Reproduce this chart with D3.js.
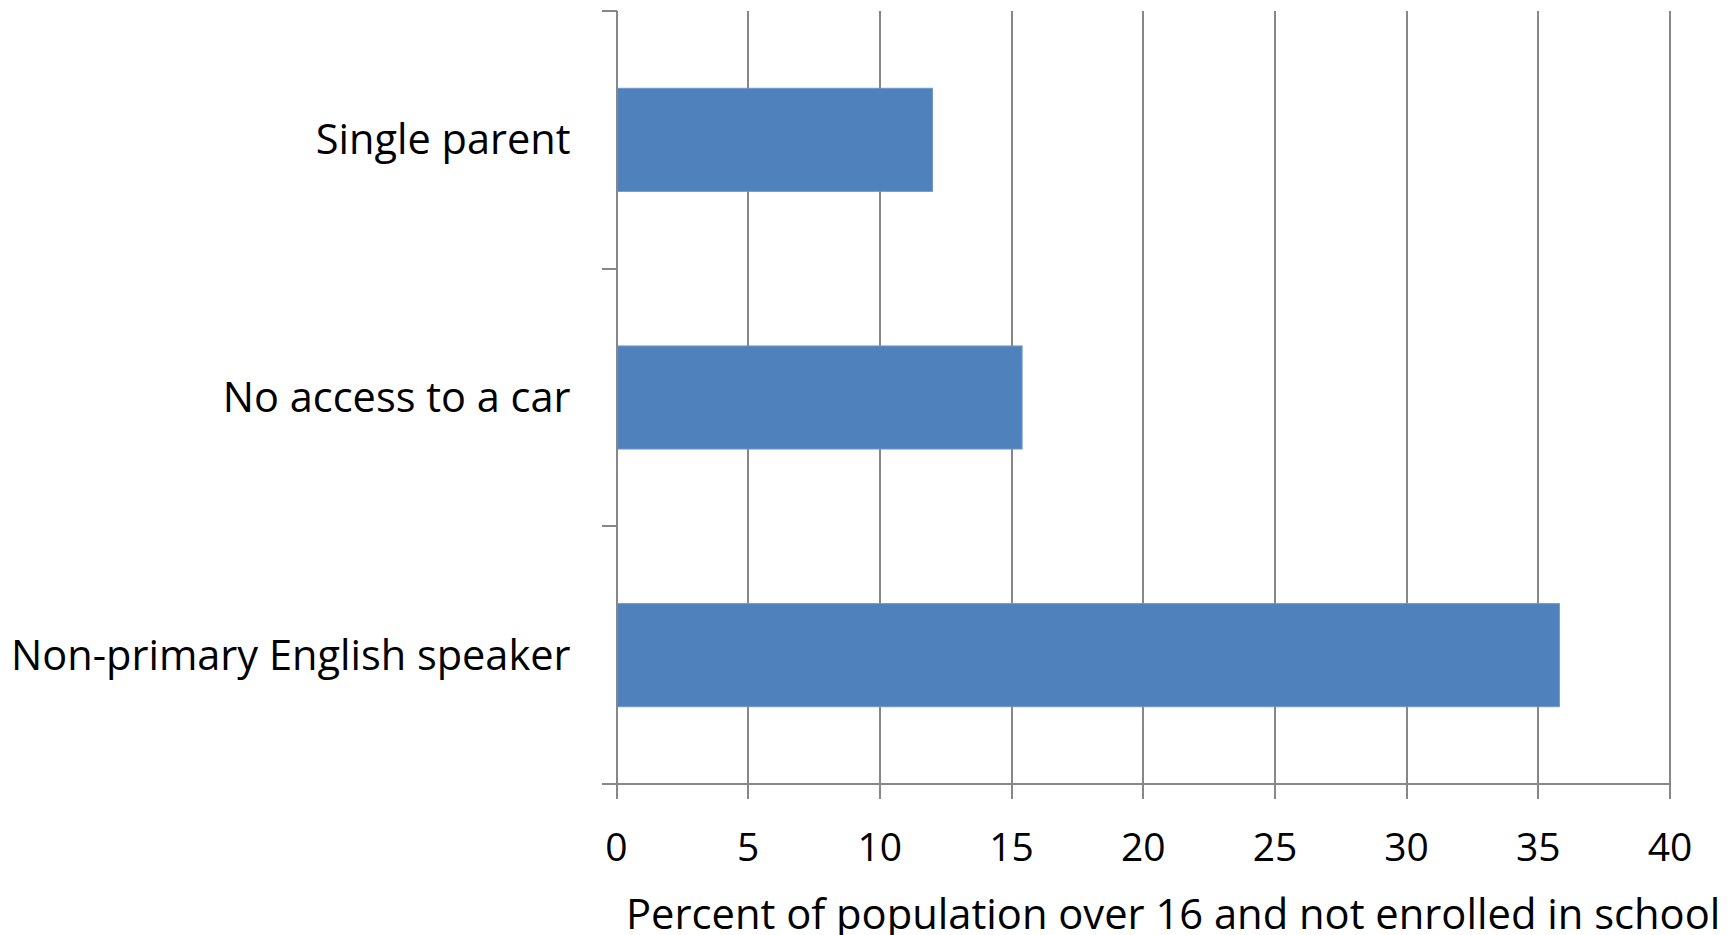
<!DOCTYPE html>
<html>
<head>
<meta charset="utf-8">
<script src="https://cdn.jsdelivr.net/npm/d3@7"></script>
<style>
  html, body { margin: 0; padding: 0; background: #fff; }
  svg { display: block; }
  text { font-family: "Open Sans", "Liberation Sans", sans-serif; fill: #000; }
</style>
</head>
<body>
<svg id="chart" width="1736" height="935"></svg>
<script>
// Share of population over 16 and not enrolled in school, by group
const categories = ["Single parent", "No access to a car", "Non-primary English speaker"];
const values = [12, 15.4, 35.8];
const xTicks = [0, 5, 10, 15, 20, 25, 30, 35, 40];
const xTitle = "Percent of population over 16 and not enrolled in school";

const svg = d3.select("#chart");
const plotLeft = 616.5, plotRight = 1670, plotTop = 11, plotBottom = 784;

const x = d3.scaleLinear().domain([0, 40]).range([plotLeft, plotRight]);
const y = d3.scaleBand().domain(categories).range([plotTop, plotBottom]).paddingInner(0.6).paddingOuter(0.3);
const yb = d3.scaleBand().domain(categories).range([plotTop, plotBottom]);

const gridColor = "#878787";

// vertical gridlines (extend below axis as tick marks)
svg.append("g").selectAll("line").data(xTicks).join("line")
  .attr("x1", d => x(d)).attr("x2", d => x(d))
  .attr("y1", plotTop).attr("y2", plotBottom + 15)
  .attr("stroke", gridColor).attr("stroke-width", 2)
  .attr("shape-rendering", "crispEdges");

// bars
svg.append("g").selectAll("rect").data(categories).join("rect")
  .attr("x", x(0))
  .attr("y", d => y(d))
  .attr("width", (d, i) => x(values[i]) - x(0))
  .attr("height", y.bandwidth())
  .attr("fill", "#4F81BD")
  .attr("stroke", "#6E97CA").attr("stroke-width", 1);

// category axis with ticks at band edges
const yEdges = [plotTop].concat(categories.map(c => yb(c) + yb.bandwidth()));
svg.append("line")
  .attr("x1", plotLeft).attr("x2", plotLeft).attr("y1", plotTop).attr("y2", plotBottom + 15)
  .attr("stroke", gridColor).attr("stroke-width", 2).attr("shape-rendering", "crispEdges");
svg.append("g").selectAll("line").data(yEdges).join("line")
  .attr("x1", plotLeft - 15).attr("x2", plotLeft)
  .attr("y1", d => d).attr("y2", d => d)
  .attr("stroke", gridColor).attr("stroke-width", 2).attr("shape-rendering", "crispEdges");

// value axis line
svg.append("line")
  .attr("x1", plotLeft - 15).attr("x2", plotRight).attr("y1", plotBottom).attr("y2", plotBottom)
  .attr("stroke", gridColor).attr("stroke-width", 2).attr("shape-rendering", "crispEdges");

// category labels
svg.append("g").selectAll("text").data(categories).join("text")
  .attr("x", plotLeft - 46)
  .attr("y", d => yb(d) + yb.bandwidth() / 2 + 14.5)
  .attr("text-anchor", "end")
  .attr("font-size", 41.5)
  .text(d => d);

// value tick labels
svg.append("g").selectAll("text").data(xTicks).join("text")
  .attr("x", d => x(d))
  .attr("y", 860.5)
  .attr("text-anchor", "middle")
  .attr("font-size", 39)
  .text(d => d);

// axis title
svg.append("text")
  .attr("x", 626)
  .attr("y", 929)
  .attr("text-anchor", "start")
  .attr("font-size", 41.7)
  .text(xTitle);
</script>
</body>
</html>
